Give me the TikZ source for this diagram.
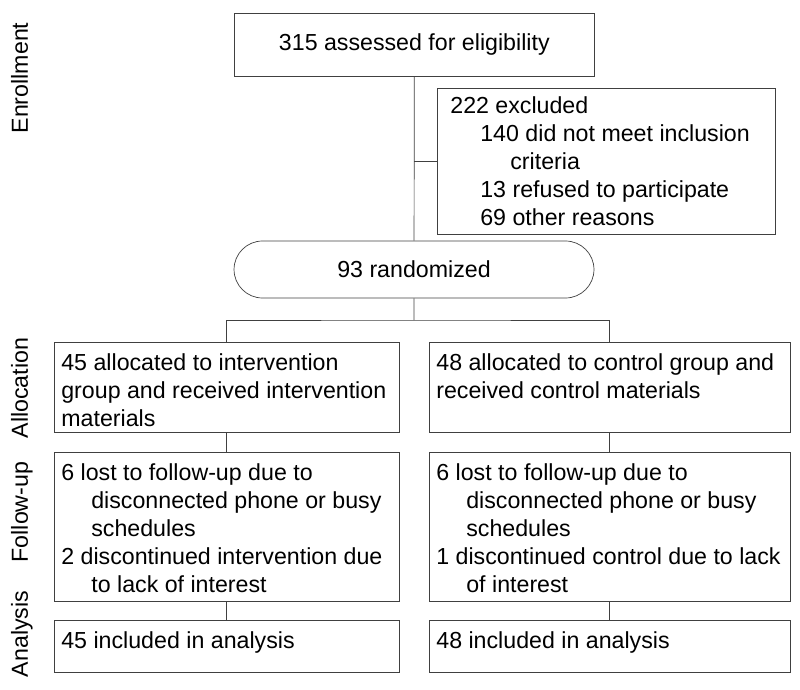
\documentclass[tikz,border=0pt]{standalone}
\usepackage{fontspec}
\setmainfont{Liberation Sans}
\usetikzlibrary{positioning, shapes.misc}

% box content: width, height, lines
\newcommand{\cell}[3]{\parbox[c][#2][t]{#1}{\begin{tabular}[t]{@{}l@{}}#3\end{tabular}}}
\newcommand{\ind}{\hspace*{0.6cm}}

\begin{document}
\begin{tikzpicture}[x=0.02cm, y=-0.02cm,
    every node/.style={font=\fontsize{13.2pt}{15.9pt}\selectfont},
    box/.style={draw=black!75, rectangle, inner xsep=0.14cm, inner ysep=0.17cm, anchor=north west},
    stage/.style={rotate=90, anchor=base},
    link/.style={draw=black!75}]
    \useasboundingbox (0,0) rectangle (800,689);
    % Stage labels
    \node[stage] (enroll) at (28,78) {Enrollment};
    \node[stage] (alloc) at (28,388) {Allocation};
    \node[stage] (follow) at (28,512) {Follow-up};
    \node[stage] (analysis) at (28,634) {Analysis};
    % Enrollment
    \node[box, minimum width=7.2cm, minimum height=1.26cm] (assessed) at (234,13) {315 assessed for eligibility};
    \node[box, inner xsep=0.26cm, inner ysep=0.12cm] (excluded) at (437,88)
        {\cell{6.24cm}{2.68cm}{222 excluded\\\ind 140 did not meet inclusion\\\ind\ind criteria\\\ind 13 refused to participate\\\ind 69 other reasons}};
    \node[draw=black!75, rounded rectangle, minimum width=7.2cm, minimum height=1.14cm, inner sep=0pt] (randomized) at (414,269.5) {93 randomized};
    % Allocation
    \node[box] (allocI) at (54,342)
        {\cell{6.62cm}{1.46cm}{45 allocated to intervention\\group and received intervention\\materials}};
    \node[box] (allocC) at (429,342)
        {\cell{6.94cm}{1.46cm}{48 allocated to control group and\\received control materials}};
    % Follow-up
    \node[box] (followI) at (54,452)
        {\cell{6.62cm}{2.64cm}{6 lost to follow-up due to\\\ind disconnected phone or busy\\\ind schedules\\2 discontinued intervention due\\\ind to lack of interest}};
    \node[box] (followC) at (429,452)
        {\cell{6.94cm}{2.64cm}{6 lost to follow-up due to\\\ind disconnected phone or busy\\\ind schedules\\1 discontinued control due to lack\\\ind of interest}};
    % Analysis
    \node[box] (analysisI) at (54,620) {\cell{6.62cm}{0.70cm}{45 included in analysis}};
    \node[box] (analysisC) at (429,620) {\cell{6.94cm}{0.70cm}{48 included in analysis}};
    % Connectors
    \coordinate (split) at (414,320);
    \draw[link] (assessed) -- (randomized);
    \draw[link] (excluded.west) -- (excluded.west -| assessed.south);
    \draw[link] (randomized) -- (split);
    \draw[link] (allocI.north) |- (split) -| (allocC.north);
    \draw[link] (allocI) -- (followI);
    \draw[link] (allocC) -- (followC);
    \draw[link] (followI) -- (analysisI);
    \draw[link] (followC) -- (analysisC);
\end{tikzpicture}
\end{document}
